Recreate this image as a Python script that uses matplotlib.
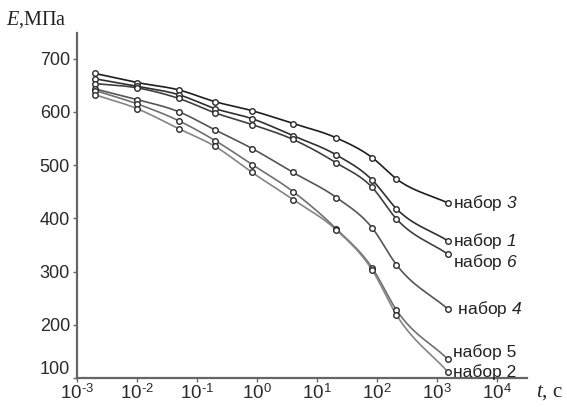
import numpy as np
import matplotlib
matplotlib.use('Agg')
from matplotlib import pyplot as plt

plt.rcParams['font.family'] = 'Liberation Sans'
plt.rcParams['mathtext.fontset'] = 'custom'
plt.rcParams['mathtext.rm'] = 'Liberation Sans'
plt.rcParams['mathtext.it'] = 'Liberation Serif:italic'
plt.rcParams['mathtext.sf'] = 'Liberation Sans:italic'

# time, s
t = [0.002, 0.01, 0.05, 0.2, 0.83, 4, 21, 83, 210, 1500]

# modulus E, MPa, for each set
set3 = [672, 655, 641, 619, 602, 578, 551, 514, 474, 429]
set1 = [662, 648, 632, 606, 587, 555, 519, 472, 418, 358]
set6 = [653, 645, 625, 598, 576, 548, 504, 458, 399, 333]
set4 = [643, 623, 600, 566, 531, 486, 439, 382, 313, 230]
set5 = [640, 615, 583, 546, 501, 450, 380, 307, 228, 136]
set2 = [632, 606, 568, 535, 486, 435, 378, 303, 219, 112]

names = [r'набор $\mathsf{3}$', r'набор $\mathsf{1}$', r'набор $\mathsf{6}$',
         r' набор $\mathsf{4}$', 'набор 5', 'набор 2']
series = [set3, set1, set6, set4, set5, set2]
colors = ['#1e1e1e', '#303030', '#404040', '#555555', '#707070', '#858585']
label_dy = [0, 0, -6, 0, 5, 0]   # points, to keep labels apart

xticks = [1e-3, 1e-2, 1e-1, 1e0, 1e1, 1e2, 1e3, 1e4]
xticklabels = [r'$10^{\text{-}3}$', r'$10^{\text{-}2}$', r'$10^{\text{-}1}$', r'$10^{0}$',
               r'$10^{1}$', r'$10^{2}$', r'$10^{3}$', r'$10^{4}$']
yticks = [100, 200, 300, 400, 500, 600, 700]


def smooth(x, y, n=40):
    # cubic hermite through the points, in log10(t) space
    lx = np.log10(np.asarray(x, float))
    y = np.asarray(y, float)
    m = np.zeros_like(y)
    d = np.diff(y) / np.diff(lx)
    m[0], m[-1] = d[0], d[-1]
    m[1:-1] = (d[:-1] * np.diff(lx)[1:] + d[1:] * np.diff(lx)[:-1]) / (lx[2:] - lx[:-2])
    xs, ys = [], []
    for i in range(len(lx) - 1):
        h = lx[i + 1] - lx[i]
        s = np.linspace(0, 1, n)
        h00 = 2*s**3 - 3*s**2 + 1
        h10 = s**3 - 2*s**2 + s
        h01 = -2*s**3 + 3*s**2
        h11 = s**3 - s**2
        xs.append(lx[i] + s*h)
        ys.append(h00*y[i] + h10*h*m[i] + h01*y[i+1] + h11*h*m[i+1])
    return 10**np.concatenate(xs), np.concatenate(ys)


fig = plt.figure(figsize=(5.67, 4.07), dpi=100)
ax = fig.add_axes([77/567, 29/407, (527-77)/567, (378-33)/407])

for y, c, name, dy in zip(series, colors, names, label_dy):
    sx, sy = smooth(t, y)
    ax.plot(sx, sy, color=c, lw=1.2, zorder=2)
    ax.plot(t, y, 'o', ms=4, mfc='white', mec='#2a2a2a', mew=1.0, zorder=3)
    ax.annotate(name, (t[-1], y[-1]), xytext=(4, dy), textcoords='offset points',
                va='center', ha='left', fontsize=12.5, color='#222222')

ax.set_xscale('log')
ax.set_xlim(1e-3, 10**4.5)
ax.set_ylim(100, 748)
ax.set_xticks(xticks)
ax.set_xticklabels(xticklabels)
ax.set_yticks(yticks)
ax.xaxis.set_minor_locator(matplotlib.ticker.NullLocator())

for s in ['top', 'right']:
    ax.spines[s].set_visible(False)
for s in ['left', 'bottom']:
    ax.spines[s].set_color('#666666')
    ax.spines[s].set_linewidth(1.6)
ax.tick_params(axis='both', colors='#666666', labelcolor='#2a2a2a', length=3, width=1)
ax.tick_params(axis='y', labelsize=13, pad=2)
ax.tick_params(axis='x', labelsize=13.5, pad=1)
for lab in ax.get_yticklabels():
    lab.set_va('bottom' if lab.get_text() == '100' else 'center_baseline')

# arrow heads on the axes
ax.plot(1, 0, '>', color='#111111', ms=8, transform=ax.get_yaxis_transform(), clip_on=False)
ax.plot(0, 1, '^', color='#111111', ms=8, transform=ax.get_xaxis_transform(), clip_on=False)

fig.text(6/567, 1 - 20/407, r'$\mathit{E}$,МПа', family='Liberation Serif',
         fontsize=14.5, va='center', ha='left', color='#222222')
fig.text(536/567, 1 - 392/407, r'$\mathit{t}$, с', family='Liberation Serif',
         fontsize=15, va='center', ha='left', color='#222222')

fig.savefig('out.png', dpi=100)
